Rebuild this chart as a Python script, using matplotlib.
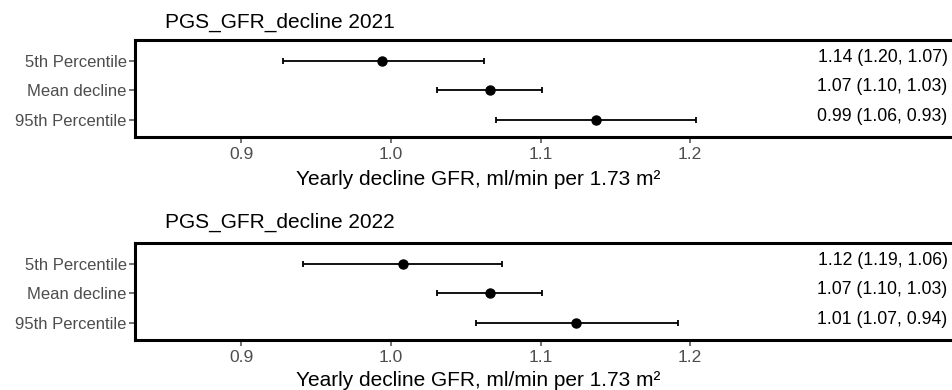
import matplotlib.pyplot as plt
import numpy as np

plt.rcParams['font.family'] = ['Liberation Sans', 'DejaVu Sans']

categories = ['5th Percentile', 'Mean decline', '95th Percentile']
xticks = [0.9, 1.0, 1.1, 1.2]

# 2021
est_2021 = [0.994, 1.066, 1.137]
lo_2021 = [0.928, 1.031, 1.070]
hi_2021 = [1.062, 1.101, 1.204]
txt_2021 = ['1.14 (1.20, 1.07)', '1.07 (1.10, 1.03)', '0.99 (1.06, 0.93)']

# 2022
est_2022 = [1.008, 1.066, 1.124]
lo_2022 = [0.941, 1.031, 1.057]
hi_2022 = [1.074, 1.101, 1.192]
txt_2022 = ['1.12 (1.19, 1.06)', '1.07 (1.10, 1.03)', '1.01 (1.07, 0.94)']

panels = [
    ('PGS_GFR_decline 2021', est_2021, lo_2021, hi_2021, txt_2021),
    ('PGS_GFR_decline 2022', est_2022, lo_2022, hi_2022, txt_2022),
]

W, H = 953, 390
fig = plt.figure(figsize=(W / 100, H / 100), dpi=100)

# panel boxes in pixels: (top, bottom, title baseline)
boxes = [(40, 137, 27.5), (243, 340, 228)]
left_px, right_px = 135, 958

ypos = np.array([3, 2, 1])
grey = '#4D4D4D'

for (title, est, lo, hi, txt), (top, bot, tb) in zip(panels, boxes):
    ax = fig.add_axes([left_px / W, 1 - bot / H, (right_px - left_px) / W, (bot - top) / H])
    est = np.array(est)
    err = [est - np.array(lo), np.array(hi) - est]
    ax.errorbar(est, ypos, xerr=err, fmt='o', color='black', ms=6.5,
                elinewidth=1.3, capsize=2.2, capthick=1.3)
    for y, t in zip(ypos, txt):
        ax.text(1.372, y + 0.13, t, ha='right', va='center', fontsize=12.7, color='black')
    ax.set_xlim(0.829, 1.379)
    ax.set_ylim(0.42, 3.71)
    ax.set_xticks(xticks)
    ax.set_xticklabels([f'{v:.1f}' for v in xticks])
    ax.set_yticks(ypos)
    ax.set_yticklabels(categories)
    ax.tick_params(axis='both', colors=grey, labelsize=12, length=4, width=1.1)
    ax.tick_params(axis='x', labelsize=12.5, pad=3)
    ax.tick_params(axis='y', pad=2)
    for s in ax.spines.values():
        s.set_linewidth(2.2)
    ax.spines['right'].set_visible(False)
    fig.text(165 / W, 1 - tb / H, title, ha='left', va='baseline', fontsize=15)
    fig.text(478 / W, 1 - min(bot + 48, 386) / H, 'Yearly decline GFR, ml/min per 1.73 m²',
             ha='center', va='baseline', fontsize=15)

fig.savefig('out.png', dpi=100)
